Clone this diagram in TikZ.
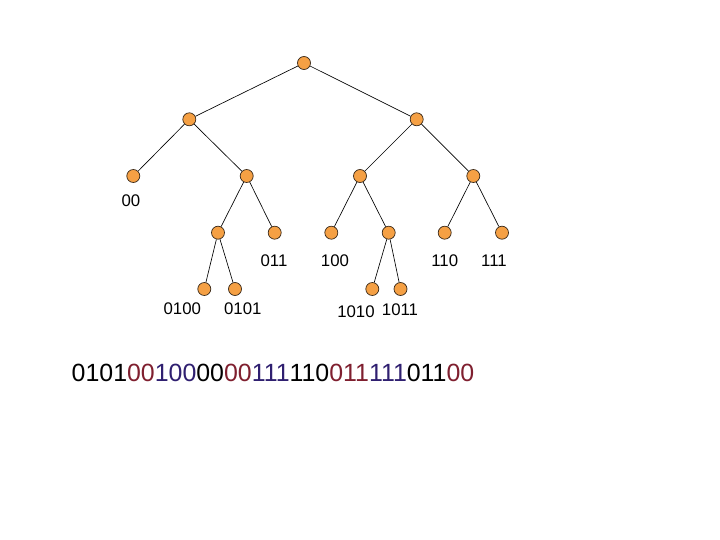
\documentclass[tikz,border=0pt]{standalone}
\usepackage{fontspec}
\setmainfont{Liberation Sans}
\definecolor{nodefill}{HTML}{F5A044}
\definecolor{nodeline}{HTML}{3A2A1A}
\definecolor{bitred}{HTML}{7F1F2F}
\definecolor{bitblue}{HTML}{2F1F70}
\begin{document}
\begin{tikzpicture}[x=1pt,y=-1pt,
  dot/.style={circle,draw=nodeline,fill=nodefill,line width=0.7pt,minimum size=13pt,inner sep=0pt},
  edge/.style={line width=0.65pt,black},
  lab/.style={inner sep=0pt,font=\fontsize{16.8}{18}\selectfont}]
\useasboundingbox (0,0) rectangle (720,540);
\fill[white] (0,0) rectangle (720,540);
% nodes
\node[dot] (r) at (304,63) {};
\node[dot] (n0) at (189.3,119.3) {};
\node[dot] (n1) at (416.7,119.3) {};
\node[dot] (n00) at (133.3,176) {};
\node[dot] (n01) at (246.7,176) {};
\node[dot] (n10) at (360,176) {};
\node[dot] (n11) at (473.3,176) {};
\node[dot] (n010) at (218,232.7) {};
\node[dot] (n011) at (274.7,232.7) {};
\node[dot] (n100) at (331.3,232.7) {};
\node[dot] (n101) at (388.7,232.7) {};
\node[dot] (n110) at (444.7,232.7) {};
\node[dot] (n111) at (502,232.7) {};
\node[dot] (n0100) at (204.3,289) {};
\node[dot] (n0101) at (235,289) {};
\node[dot] (n1010) at (372.3,289) {};
\node[dot] (n1011) at (400.5,289) {};
% edges
\draw[edge] (r) -- (n0);
\draw[edge] (r) -- (n1);
\draw[edge] (n0) -- (n00);
\draw[edge] (n0) -- (n01);
\draw[edge] (n1) -- (n10);
\draw[edge] (n1) -- (n11);
\draw[edge] (n01) -- (n010);
\draw[edge] (n01) -- (n011);
\draw[edge] (n10) -- (n100);
\draw[edge] (n10) -- (n101);
\draw[edge] (n11) -- (n110);
\draw[edge] (n11) -- (n111);
\draw[edge] (n010) -- (n0100);
\draw[edge] (n010) -- (n0101);
\draw[edge] (n101) -- (n1010);
\draw[edge] (n101) -- (n1011);
% labels
\node[lab] (l00) at (131,200.8) {00};
\node[lab] (l011) at (274,260.5) {011};
\node[lab] (l100) at (335,260.5) {100};
\node[lab] (l110) at (444.7,260.5) {110};
\node[lab] (l111) at (494,260.5) {111};
\node[lab] (l0100) at (182.3,308.5) {0100};
\node[lab] (l0101) at (242.8,308.5) {0101};
\node[lab] (l1010) at (356,312) {1010};
\node[lab] (l1011) at (400,310) {1011};
% bit string
\node[inner sep=0pt,font=\fontsize{24.9}{28}\selectfont] (bits) at (273,373)
  {0101\textcolor{bitred}{00}\textcolor{bitblue}{100}00\textcolor{bitred}{00}\textcolor{bitblue}{111}110\textcolor{bitred}{011}\textcolor{bitblue}{111}011\textcolor{bitred}{00}};
\end{tikzpicture}
\end{document}
